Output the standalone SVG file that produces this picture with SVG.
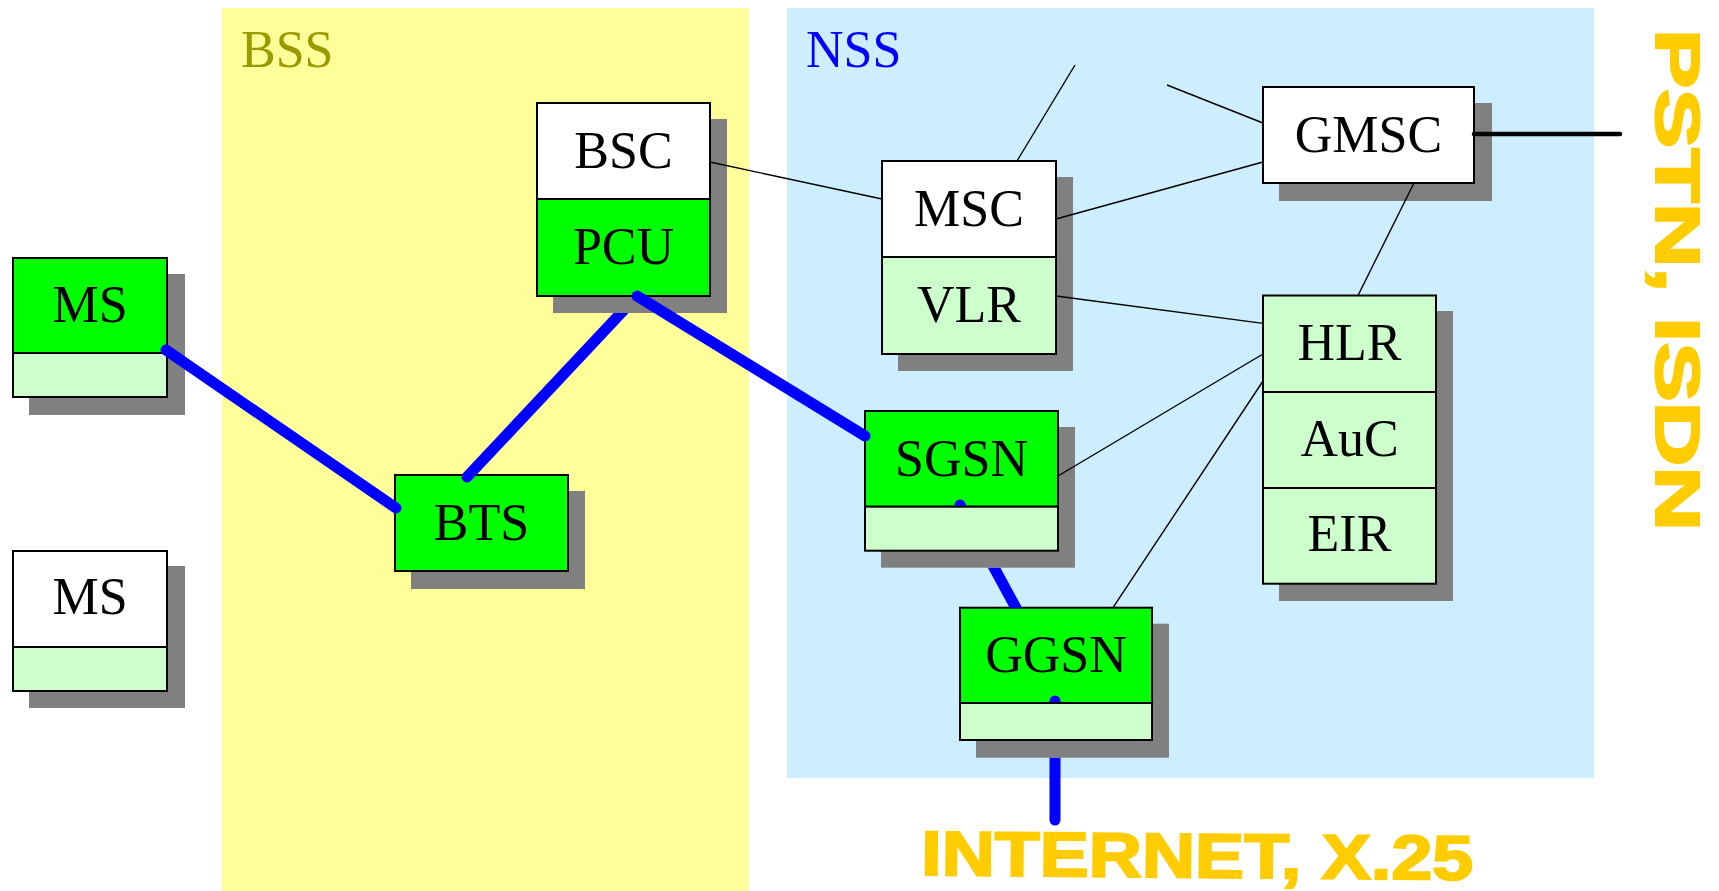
<svg xmlns="http://www.w3.org/2000/svg" width="1719" height="891" viewBox="0 0 1719 891">
  <style>
    .shadow { fill: #808080; }
    .box { stroke: #000; stroke-width: 2; }
    .white { fill: #ffffff; }
    .green { fill: #00ff00; }
    .light { fill: #ccffcc; }
    .lbl { font-family: "Liberation Serif", "Times New Roman", serif; font-size: 52px; text-anchor: middle; fill: #000; }
    .area { font-family: "Liberation Serif", "Times New Roman", serif; font-size: 52px; }
    .thin { stroke: #000; stroke-width: 1.4; fill: none; }
    .radio { stroke: #0000ff; stroke-width: 11; stroke-linecap: round; fill: none; }
    .ext { font-family: "Liberation Sans", Arial, sans-serif; font-weight: bold; font-size: 63px; fill: #ffcc00; stroke: #ffcc00; stroke-width: 2; }
  </style>
  <defs>
    <clipPath id="clipBtsPcu">
      <rect x="0" y="313" width="1719" height="578"/>
    </clipPath>
    <clipPath id="clipSgsnGgsn">
      <rect x="0" y="0" width="1719" height="505.7"/>
      <rect x="0" y="567.7" width="1719" height="40"/>
    </clipPath>
    <clipPath id="clipGgsnNet">
      <rect x="0" y="0" width="1719" height="702"/>
      <rect x="0" y="757.7" width="1719" height="133.3"/>
    </clipPath>
  </defs>

  <rect width="1719" height="891" fill="#ffffff"/>

  <!-- subsystem areas -->
  <g id="bss">
    <rect x="222" y="8" width="527" height="883" fill="#ffff99"/>
    <text class="area" x="241" y="67" fill="#999900">BSS</text>
  </g>
  <g id="nss">
    <rect x="787" y="8" width="807" height="770" fill="#cceeff"/>
    <text class="area" x="806" y="67" fill="#0000ff">NSS</text>
  </g>

  <!-- mobile stations -->
  <g id="ms1">
    <rect class="shadow" x="29" y="274" width="156" height="141"/>
    <rect class="box green" x="13" y="258" width="154" height="95"/>
    <rect class="box light" x="13" y="353" width="154" height="44"/>
    <text class="lbl" x="90" y="322">MS</text>
  </g>
  <g id="ms2">
    <rect class="shadow" x="29" y="566" width="156" height="142"/>
    <rect class="box white" x="13" y="551" width="154" height="96"/>
    <rect class="box light" x="13" y="647" width="154" height="44"/>
    <text class="lbl" x="90" y="614">MS</text>
  </g>

  <!-- base station subsystem -->
  <g id="bts">
    <rect class="shadow" x="411" y="491" width="174" height="98"/>
    <rect class="box green" x="395" y="475" width="173" height="96"/>
    <text class="lbl" x="481.5" y="540">BTS</text>
  </g>
  <g id="bsc">
    <rect class="shadow" x="553" y="119" width="174" height="194"/>
    <rect class="box white" x="537" y="103" width="173" height="96"/>
    <rect class="box green" x="537" y="199" width="173" height="97"/>
    <text class="lbl" x="623.5" y="168">BSC</text>
    <text class="lbl" x="623.5" y="264">PCU</text>
  </g>

  <!-- network subsystem -->
  <g id="msc">
    <rect class="shadow" x="898" y="177" width="175" height="194"/>
    <rect class="box white" x="882" y="161" width="174" height="96"/>
    <rect class="box light" x="882" y="257" width="174" height="97"/>
    <text class="lbl" x="969" y="226">MSC</text>
    <text class="lbl" x="969" y="321.5">VLR</text>
  </g>
  <g id="gmsc">
    <rect class="shadow" x="1279" y="103" width="213" height="98"/>
    <rect class="box white" x="1263" y="87" width="211" height="96"/>
    <text class="lbl" x="1368.5" y="152">GMSC</text>
  </g>
  <g id="hlr">
    <rect class="shadow" x="1279" y="311" width="174" height="290"/>
    <rect class="box light" x="1263" y="295.5" width="173" height="96.5"/>
    <rect class="box light" x="1263" y="392" width="173" height="96"/>
    <rect class="box light" x="1263" y="488" width="173" height="95.7"/>
    <text class="lbl" x="1349.5" y="360">HLR</text>
    <text class="lbl" x="1349.5" y="456">AuC</text>
    <text class="lbl" x="1349.5" y="551">EIR</text>
  </g>
  <g id="sgsn">
    <rect class="shadow" x="881" y="427" width="194" height="140.7"/>
    <rect class="box green" x="865" y="411" width="193" height="95.7"/>
    <rect class="box light" x="865" y="506.7" width="193" height="44"/>
    <text class="lbl" x="961.5" y="476">SGSN</text>
  </g>
  <g id="ggsn">
    <rect class="shadow" x="976" y="623.7" width="193" height="134"/>
    <rect class="box green" x="960" y="607.7" width="192" height="95.3"/>
    <rect class="box light" x="960" y="703" width="192" height="37"/>
    <text class="lbl" x="1056" y="671.7">GGSN</text>
  </g>

  <!-- links -->
  <g id="connectors">
    <line class="thin" x1="710" y1="162" x2="882" y2="199"/>
    <line class="thin" x1="1017" y1="161" x2="1075" y2="65"/>
    <line class="thin" x1="1167" y1="85" x2="1263" y2="123"/>
    <line class="thin" x1="1056" y1="219" x2="1263" y2="162"/>
    <line class="thin" x1="1414" y1="183" x2="1358" y2="295.5"/>
    <line class="thin" x1="1056" y1="296" x2="1263" y2="323.4"/>
    <line class="thin" x1="1058" y1="476" x2="1263" y2="354"/>
    <line class="thin" x1="1113" y1="607.7" x2="1263" y2="381"/>
    <line x1="1474" y1="134" x2="1620" y2="134" stroke="#000" stroke-width="4.5" stroke-linecap="round"/>

    <line class="radio" x1="166" y1="350" x2="396" y2="508"/>
    <line class="radio" x1="467" y1="477" x2="637" y2="296" clip-path="url(#clipBtsPcu)"/>
    <line class="radio" x1="637" y1="296" x2="865" y2="436"/>
    <line class="radio" x1="960" y1="505" x2="1016" y2="608" clip-path="url(#clipSgsnGgsn)"/>
    <line class="radio" x1="1055" y1="701" x2="1055" y2="820" clip-path="url(#clipGgsnNet)"/>
  </g>

  <!-- external networks -->
  <g id="internet">
    <text class="ext" transform="rotate(0.5 921 875)" x="921" y="875" textLength="552" lengthAdjust="spacingAndGlyphs">INTERNET, X.25</text>
  </g>
  <g id="pstn">
    <text class="ext" transform="translate(1656,29) rotate(90)" x="0" y="0" textLength="502" lengthAdjust="spacingAndGlyphs">PSTN, ISDN</text>
  </g>
</svg>
